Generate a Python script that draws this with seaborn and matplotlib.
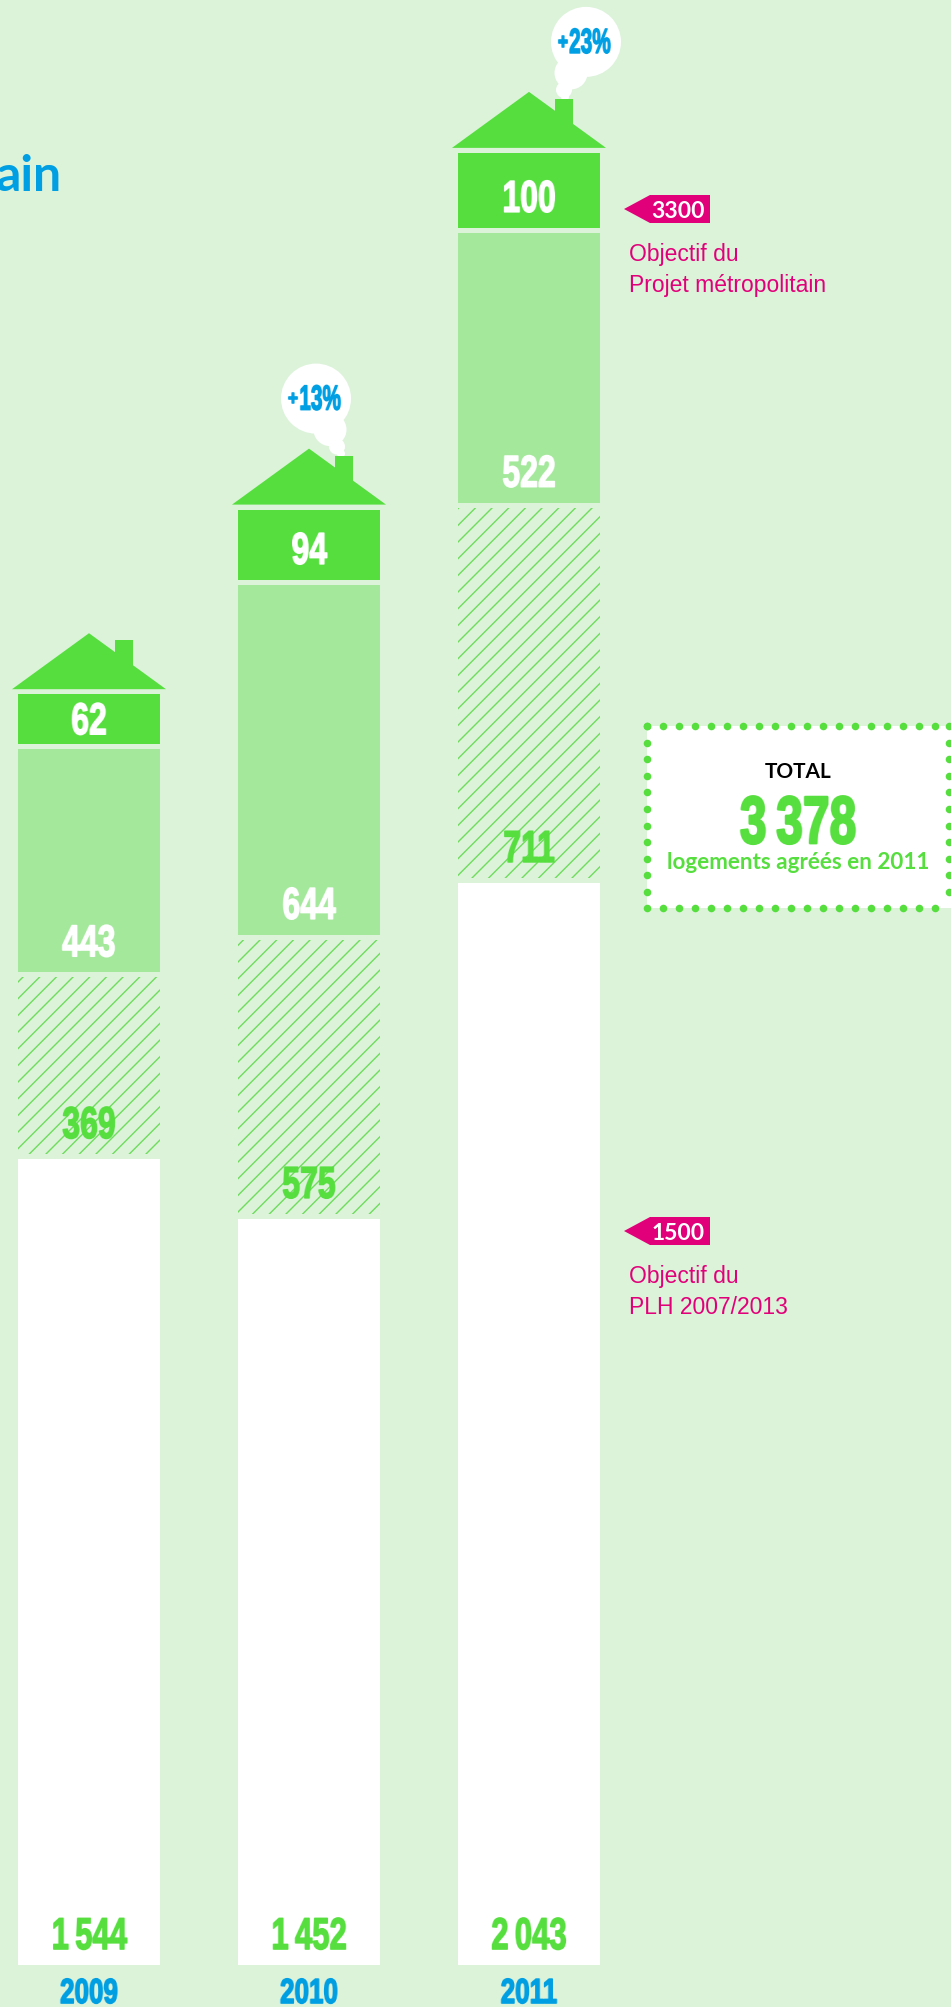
import numpy as np
import pandas as pd
import seaborn as sns
import matplotlib.pyplot as plt
import matplotlib.patheffects as pe
from matplotlib.colors import to_rgb
from matplotlib.patches import Circle, Polygon, Rectangle

years = ['2009', '2010', '2011']

# heights as drawn (the original is not quite to scale), in logements
white_bars = [1550, 1435, 2081]
hatch_bars = [340, 527, 712]
light_bars = [429, 673, 519]
top_bars = [96, 135, 144]

# printed figures
white_labels = ['1\u2009544', '1\u2009452', '2\u2009043']
hatch_labels = ['369', '575', '711']
light_labels = ['443', '644', '522']
top_labels = ['62', '94', '100']
growth_labels = [None, '13%', '23%']

goals = [3300, 1500]
goal_texts = ['Objectif du\nProjet métropolitain', 'Objectif du\nPLH 2007/2013']

BG = '#dcf3da'
GREEN = '#56de3e'
LIGHT = '#a4e89c'
HATCH = '#6edc5c'
BLUE = '#009fe3'
PINK = '#e2007a'

W, H = 951, 2008
BASE = 1966      # pixel row of the bars' foot
SCALE = 0.52     # pixels per logement
GAP = 5 / SCALE  # gap between the floors

NUM = ['Liberation Sans', 'DejaVu Sans']
SANS = ['Lato', 'DejaVu Sans']

sns.set_theme(style='white')
plt.rcParams['hatch.linewidth'] = 1.0

fig = plt.figure(figsize=(W / 100, H / 100), dpi=100, facecolor=BG)

# the bars, in data units
ax = fig.add_axes([0, 0, 1, 1], facecolor=BG)
df = pd.DataFrame({'year': years, 'white': white_bars, 'hatch': hatch_bars,
                   'light': light_bars, 'top': top_bars})
bottom = np.zeros(3)
seg_bottoms = {}
for col, color in [('white', 'white'), ('hatch', BG), ('light', LIGHT), ('top', GREEN)]:
    n = len(ax.patches)
    seg_bottoms[col] = bottom.copy()
    sns.barplot(data=df, x='year', y=col, color=color, width=142 / 220, saturation=1,
                bottom=bottom, ax=ax, linewidth=0)
    if col == 'hatch':
        for p in ax.patches[n:]:
            p.set_hatch('//')
            p.set_edgecolor(HATCH)
            p.set_linewidth(0)
    bottom = bottom + df[col].to_numpy() + GAP
ax.set_xlim(-89 / 220, (W - 89) / 220)
ax.set_ylim(-(H - BASE) / SCALE, BASE / SCALE)
ax.axis('off')
tops = bottom - GAP

# overlay in pixels for the drawing around the bars
deco = fig.add_axes([0, 0, 1, 1], facecolor='none')
deco.set_xlim(0, W)
deco.set_ylim(H, 0)
deco.axis('off')


def py(v):
    return BASE - v * SCALE


def squeeze(f, color):
    # no condensed font here, so the drawn text is narrowed sideways
    rgb = to_rgb(color)

    def flt(img, dpi):
        h, w = img.shape[:2]
        cum = np.zeros((h, w + 1))
        cum[:, 1:] = np.cumsum(img[:, :, 3], axis=1)
        x = np.clip((np.arange(w + 1) - w / 2) / f + w / 2, 0, w)
        i = np.minimum(x.astype(int), w - 1)
        t = x - i
        c = cum[:, i] * (1 - t) + cum[:, i + 1] * t
        out = np.zeros_like(img)
        out[:, :, :3] = rgb
        out[:, :, 3] = np.clip((c[:, 1:] - c[:, :-1]) * f, 0, 1)
        return out, 0, 0
    return flt


def num(x, y, s, size, color, f=0.72, fat=1.2):
    t = deco.text(x, y, s, family=NUM, weight='bold', fontsize=size, color=color,
                  ha='center', va='center_baseline')
    t.set_path_effects([pe.withStroke(linewidth=fat, foreground=color)])
    t.set_agg_filter(squeeze(f, color))


centers = [89, 309, 529]
bubble_dx = [0, 7, 57]
puff_dx = [0, 21, 42]
small_dx = [0, 28, 35]
tiny_dx = [0, 32, 36]
for i, cx in enumerate(centers):
    top = py(tops[i])
    if growth_labels[i]:
        # smoke bubble, behind the chimney
        deco.add_patch(Circle((cx + bubble_dx[i], top - 111), 35, color='white', lw=0))
        deco.add_patch(Circle((cx + puff_dx[i], top - 80), 16.5, color='white', lw=0))
        deco.add_patch(Circle((cx + small_dx[i], top - 63), 8, color='white', lw=0))
        deco.add_patch(Circle((cx + tiny_dx[i], top - 56), 4, color='white', lw=0))
        num(cx + bubble_dx[i] - 23, top - 112, '+', 15, BLUE, f=0.85)
        num(cx + bubble_dx[i] + 4, top - 113, growth_labels[i], 25, BLUE, f=0.6)
    # roof and chimney
    deco.add_patch(Polygon([(cx - 77, top - 5), (cx, top - 61), (cx + 77, top - 5)], color=GREEN, lw=0))
    deco.add_patch(Rectangle((cx + 26, top - 54), 18, 26, color=GREEN, lw=0))

    num(cx, BASE - 32, white_labels[i], 32, GREEN, f=0.7)
    num(cx, py(seg_bottoms['hatch'][i]) - 32, hatch_labels[i], 32, GREEN)
    num(cx, py(seg_bottoms['light'][i]) - 32, light_labels[i], 32, 'white')
    h_top = top_bars[i] * SCALE
    num(cx, py(seg_bottoms['top'][i]) - min(32, h_top / 2 + 1), top_labels[i], 32, 'white')
    num(cx, 1991, years[i], 25, BLUE, f=0.75)

# goals
for goal, txt, yc in zip(goals, goal_texts, [210, 1232]):
    deco.add_patch(Polygon([(624, yc), (650, yc - 14), (710, yc - 14), (710, yc + 14), (650, yc + 14)],
                           color=PINK, lw=0))
    deco.text(678, yc, str(goal), family=SANS, weight='bold', fontsize=16.5, color='white',
              ha='center', va='center_baseline')
    deco.text(629, yc + 33, txt, family=NUM, fontsize=16.5, color=PINK, ha='left', va='top',
              linespacing=1.42)

# total box
deco.add_patch(Rectangle((647, 727), 304, 182, color='white', lw=0))
xs = np.arange(647, 951, 16)
ys = np.arange(727, 909, 16.6)
deco.scatter(xs, np.full(len(xs), 727), s=30, color=GREEN, lw=0)
deco.scatter(xs, np.full(len(xs), 909), s=30, color=GREEN, lw=0)
deco.scatter(np.full(len(ys), 647), ys, s=30, color=GREEN, lw=0)
deco.scatter(np.full(len(ys), 949), ys, s=30, color=GREEN, lw=0)
deco.set_xlim(0, W)
deco.set_ylim(H, 0)
deco.text(798, 770, 'TOTAL', family=SANS, weight='bold', fontsize=15, color='black', ha='center', va='center_baseline')
num(798, 820, '3\u2009378', 48, GREEN, f=0.72, fat=2)
deco.text(798, 861, 'logements agréés en 2011', family=SANS, weight='bold', fontsize=16.2, color=GREEN,
          ha='center', va='center_baseline')

# title cut off by the crop
deco.text(62, 191, 'ain', family=SANS, weight='bold', fontsize=36, color=BLUE, ha='right', va='baseline')

fig.savefig('out.png', dpi=100, facecolor=BG)
